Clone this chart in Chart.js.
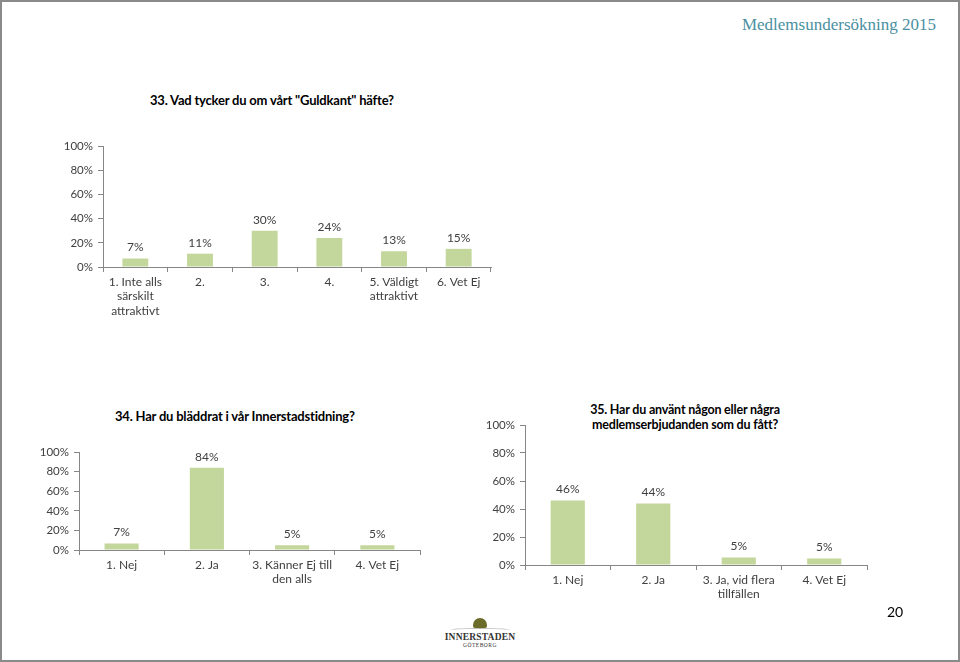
<!DOCTYPE html>
<html>
<head>
<meta charset="utf-8">
<script src="https://cdn.jsdelivr.net/npm/chart.js@4.4.0/dist/chart.umd.min.js"></script>
<style>
  body { margin: 0; background: #fff; font-family: Lato, "Noto Sans", sans-serif; }
  #page { position: relative; width: 960px; height: 662px; overflow: hidden; }
  #frame { position: absolute; left: 0; top: 0; width: 956px; height: 658px; border: 2px solid #8a8a8a; border-bottom-width: 3px; }
  .box { position: absolute; }
  .title { position: absolute; font-weight: bold; font-size: 13px; letter-spacing: -0.2px; color: #000; text-align: center; white-space: nowrap; }
  #header { position: absolute; right: 24px; top: 15px; font-family: "Liberation Serif", serif; font-size: 17px; color: #4a8fa2; }
  #pagenum { position: absolute; left: 887px; top: 603px; font-size: 14px; color: #000; }
  #logo { position: absolute; left: 440px; top: 618px; width: 80px; text-align: center; font-family: "Liberation Serif", serif; color: #333; }
  #logo .crown { width: 14px; height: 10px; margin: 0 auto; background: #6b6b2a; border-radius: 7px 7px 2px 2px; }
  #logo .swoosh { width: 60px; height: 3px; margin: 0 auto; border-top: 1px solid #bbb; border-radius: 50%; }
  #logo .big { font-size: 9.5px; font-weight: bold; letter-spacing: 0.2px; line-height: 10px; }
  #logo .small { font-size: 5.5px; line-height: 7px; letter-spacing: 0.5px; }
</style>
</head>
<body>
<div id="page">
  <div id="frame"></div>
  <div id="header">Medlemsundersökning 2015</div>

  <div class="title" style="left:150px; top:92px;">33. Vad tycker du om vårt "Guldkant" häfte?</div>
  <div class="box" style="left:20px; top:130px; width:490px; height:200px;"><canvas id="chart33"></canvas></div>

  <div class="title" style="left:115px; top:408px;">34. Har du bläddrat i vår Innerstadstidning?</div>
  <div class="box" style="left:0px; top:430px; width:440px; height:180px;"><canvas id="chart34"></canvas></div>

  <div class="title" style="left:535px; top:402px; width:300px; line-height:15px; font-size:12.5px;">35. Har du använt någon eller några<br>medlemserbjudanden som du fått?</div>
  <div class="box" style="left:470px; top:400px; width:420px; height:210px;"><canvas id="chart35"></canvas></div>

  <div id="logo">
    <div class="crown"></div>
    <div class="swoosh"></div>
    <div class="big">INNERSTADEN</div>
    <div class="small">GÖTEBORG</div>
  </div>
  <div id="pagenum">20</div>
</div>

<script>
// Data
const labels33 = [["1. Inte alls", "särskilt", "attraktivt"], "2.", "3.", "4.", ["5. Väldigt", "attraktivt"], "6. Vet Ej"];
const values33 = [7, 11, 30, 24, 13, 15];

const labels34 = ["1. Nej", "2. Ja", ["3. Känner Ej till", "den alls"], "4. Vet Ej"];
const values34 = [6.6, 84, 4.8, 4.8];

const labels35 = ["1. Nej", "2. Ja", ["3. Ja, vid flera", "tillfällen"], "4. Vet Ej"];
const values35 = [46, 44, 5.3, 4.6];

const yTicks = [0, 20, 40, 60, 80, 100];

const barColor = '#c3d69b';
const axisColor = '#868686';
const textColor = '#404040';

// draws the % value above each bar
const valueLabels = {
  id: 'valueLabels',
  afterDatasetsDraw(chart) {
    const ctx = chart.ctx;
    const meta = chart.getDatasetMeta(0);
    const data = chart.data.datasets[0].data;
    ctx.save();
    ctx.font = '12px Lato';
    ctx.fillStyle = textColor;
    ctx.textAlign = 'center';
    ctx.textBaseline = 'bottom';
    meta.data.forEach((bar, i) => {
      ctx.fillText(Math.round(data[i]) + '%', bar.x, bar.y - 5);
    });
    ctx.restore();
  }
};

function makeChart(id, labels, values, yWidth, xHeight, padTop, padRight) {
  return new Chart(document.getElementById(id), {
    type: 'bar',
    data: {
      labels: labels,
      datasets: [{
        data: values,
        backgroundColor: barColor,
        borderWidth: 0,
        barPercentage: 1,
        categoryPercentage: 0.4
      }]
    },
    options: {
      responsive: true,
      maintainAspectRatio: false,
      animation: false,
      devicePixelRatio: 1,
      layout: { padding: { top: padTop, right: padRight, left: 0, bottom: 0 } },
      plugins: { legend: { display: false }, tooltip: { enabled: false } },
      scales: {
        x: {
          afterFit(scale) { scale.height = xHeight; },
          border: { color: axisColor, width: 1 },
          grid: { drawOnChartArea: false, color: axisColor, tickLength: 5, offset: true },
          ticks: { color: textColor, font: { family: 'Lato', size: 12, lineHeight: 1.2 }, padding: 3, maxRotation: 0, autoSkip: false }
        },
        y: {
          min: 0,
          max: 100,
          afterFit(scale) { scale.width = yWidth; },
          afterBuildTicks(scale) { scale.ticks = yTicks.map(v => ({ value: v })); },
          border: { color: axisColor, width: 1 },
          grid: { drawOnChartArea: false, color: axisColor, tickLength: 5 },
          ticks: { color: textColor, font: { family: 'Lato', size: 11.5 }, padding: 5, callback: v => v + '%' }
        }
      }
    },
    plugins: [valueLabels]
  });
}

makeChart('chart33', labels33, values33, 83, 63, 16, 19);
makeChart('chart34', labels34, values34, 79, 60, 22, 20);
makeChart('chart35', labels35, values35, 55, 45, 25, 23);
</script>
</body>
</html>
